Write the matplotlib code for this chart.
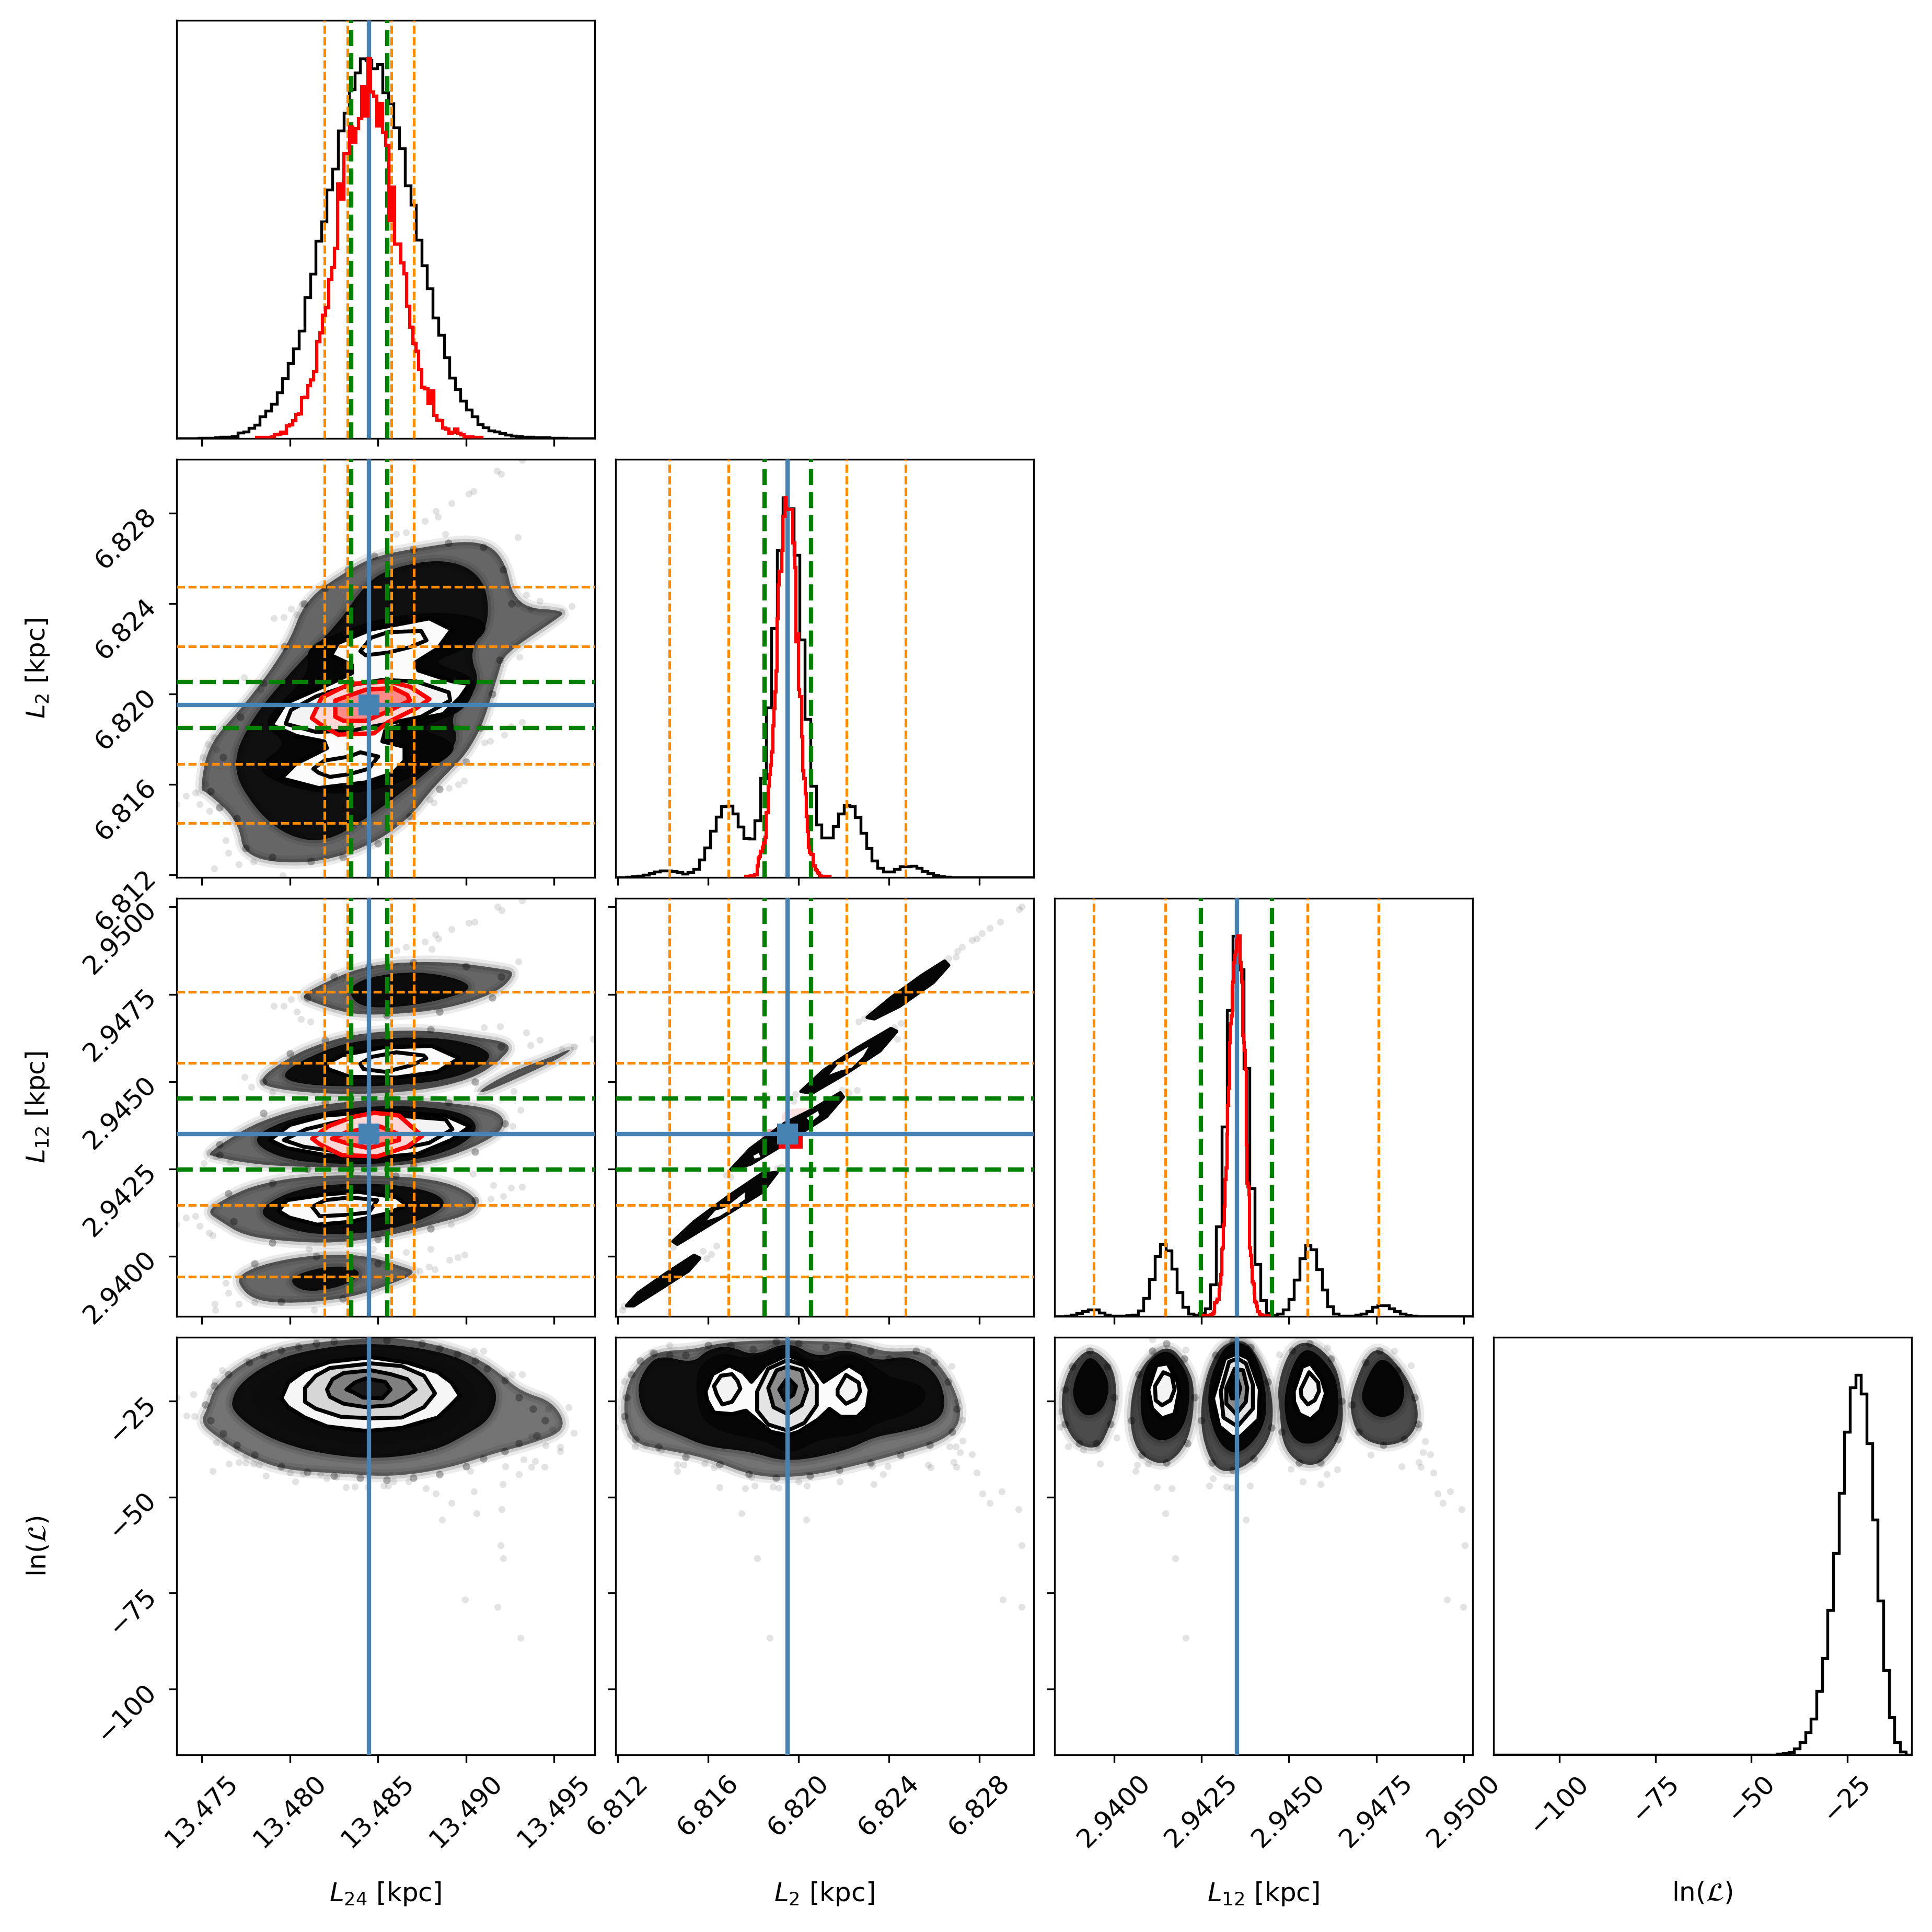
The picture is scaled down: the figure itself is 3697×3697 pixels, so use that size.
import numpy as np
import matplotlib
matplotlib.use("Agg")
import matplotlib.pyplot as plt
from matplotlib.path import Path
from matplotlib.patches import PathPatch

# axis ranges and ticks
l24_lim = (13.47356, 13.49729)
l2_lim = (6.8119, 6.83039)
l12_lim = (2.93829, 2.95025)
lnl_lim = (-117.2, -8.35)

l24_ticks = [13.475, 13.480, 13.485, 13.490, 13.495]
l2_ticks = [6.812, 6.816, 6.820, 6.824, 6.828]
l12_ticks = [2.9400, 2.9425, 2.9450, 2.9475, 2.9500]
lnl_ticks = [-100, -75, -50, -25]
l24_labels = ["13.475", "13.480", "13.485", "13.490", "13.495"]
l2_labels = ["6.812", "6.816", "6.820", "6.824", "6.828"]
l12_labels = ["2.9400", "2.9425", "2.9450", "2.9475", "2.9500"]
lnl_labels = ["\u2212100", "\u221275", "\u221250", "\u221225"]

names = [r"$L_{24}$ [kpc]", r"$L_{2}$ [kpc]", r"$L_{12}$ [kpc]", r"ln($\mathcal{L}$)"]

# reference lines
l24_truth = 13.4845
l2_truth = 6.81952
l12_truth = 2.94351
l24_orange = [13.48197, 13.48326, 13.48577, 13.48703]
l2_orange = [6.81430, 6.81690, 6.82212, 6.82474]
l12_orange = [2.93942, 2.94147, 2.94554, 2.94757]
l24_green = [13.48349, 13.48553]
l2_green = [6.81850, 6.82055]
l12_green = [2.94249, 2.94452]

# histograms, 75 bins each, peak scaled to 1000
l24_hist = [0, 0, 0, 0, 1, 1, 1, 2, 4, 4, 6, 15, 18, 27, 36, 57, 73, 90, 121, 158, 198, 237, 283, 371, 433,
            520, 571, 654, 710, 810, 856, 919, 962, 1000, 996, 974, 984, 910, 881, 818, 763, 666, 615, 523, 455,
            394, 317, 272, 213, 160, 129, 99, 75, 57, 37, 29, 21, 18, 13, 10, 7, 6, 4, 4, 3, 2, 2, 1, 1, 1,
            0, 0, 0, 0, 0]
l24_red = [2, 2, 2, 2, 2, 4, 9, 11, 16, 13, 33, 36, 46, 63, 64, 107, 108, 139, 154, 176, 254, 278, 324, 343, 418,
           450, 500, 670, 629, 750, 750, 820, 779, 816, 842, 926, 849, 1000, 912, 901, 822, 881, 806, 772, 573,
           661, 512, 512, 462, 433, 348, 293, 250, 230, 182, 134, 130, 92, 125, 60, 48, 46, 27, 24, 13,
           16, 24, 13, 9, 4, 4, 4, 3, 3, 3]
l24_red_range = (13.47811, 13.49090)

l2_hist = [0, 0, 1, 2, 4, 6, 10, 15, 17, 17, 16, 13, 9, 13, 21, 46, 78, 122, 159, 187, 188, 167, 133, 103, 101,
           149, 261, 446, 656, 861, 1000, 971, 848, 625, 417, 241, 138, 104, 104, 135, 168, 190, 187, 158, 117,
           76, 44, 25, 15, 15, 22, 28, 28, 30, 25, 16, 11, 5, 2, 1, 0, 0, 0, 0, 0, 0, 0, 0, 0, 0,
           0, 0, 0, 0, 0]
l2_red = [2, 2, 3, 2, 4, 2, 3, 3, 7, 7, 30, 50, 55, 68, 68, 80, 90, 105, 170, 170, 240, 270, 295, 330, 398,
          444, 488, 543, 680, 770, 805, 805, 860, 950, 950, 1000, 970, 968, 968, 968, 968, 968, 880, 880, 815,
          620, 640, 495, 475, 475, 370, 280, 260, 220, 160, 120, 80, 65, 62, 60, 30, 30, 20, 18, 12,
          10, 5, 3, 2, 2, 2, 2, 2, 2, 2]
l2_red_range = (6.81767, 6.82138)

l12_hist = [0, 0, 1, 4, 8, 13, 17, 17, 9, 4, 1, 1, 1, 2, 4, 14, 48, 97, 157, 189, 173, 125, 63, 24, 6,
            4, 8, 20, 83, 236, 499, 806, 1000, 912, 653, 337, 137, 42, 8, 2, 6, 18, 45, 96, 152,
            186, 176, 123, 69, 26, 6, 1, 1, 1, 4, 7, 13, 24, 29, 29, 20, 13, 6, 2, 1,
            0, 0, 0, 0, 0, 0, 0, 0, 0, 0]
l12_red = [2, 2, 1, 1, 1, 1, 2, 2, 3, 3, 5, 8, 12, 35, 35, 40, 45, 45, 70, 85, 110, 175, 180, 240, 290,
           360, 390, 480, 555, 600, 720, 770, 790, 870, 880, 930, 950, 960, 990, 1000, 1000, 1000, 930, 910, 880,
           740, 720, 700, 650, 450, 350, 340, 320, 180, 160, 130, 90, 85, 60, 40, 35, 25, 12, 12, 8,
           4, 4, 2, 1, 1, 1, 1, 1, 1, 1]
l12_red_range = (2.94255, 2.94443)

lnl_hist = [0] * 50 + [1, 3, 5, 7, 17, 34, 60, 95, 169, 255, 382, 531, 689, 851, 967, 1000, 951, 820, 620, 406,
                       224, 100, 34, 9, 1]

# L24 vs L2
a_outer = [(13.4749, 6.81573), (13.47536, 6.81779), (13.4774, 6.81948), (13.47991, 6.82214), (13.48086, 6.82419),
           (13.48337, 6.82552), (13.48494, 6.82613), (13.48745, 6.82649), (13.49059, 6.82685), (13.49216, 6.82613),
           (13.49279, 6.82383), (13.49577, 6.82371), (13.49499, 6.82323), (13.49216, 6.82178), (13.49185, 6.82093),
           (13.49059, 6.81779), (13.48824, 6.81598), (13.48667, 6.8144), (13.48431, 6.8132), (13.48117, 6.81247),
           (13.4774, 6.81271), (13.47709, 6.8144), (13.4752, 6.81573)]
a_mid = [(13.47662, 6.81682), (13.47787, 6.819), (13.48054, 6.82141), (13.48274, 6.82311), (13.48431, 6.82492),
         (13.48588, 6.82564), (13.48902, 6.82601), (13.49106, 6.82516), (13.49137, 6.82311), (13.49012, 6.8219),
         (13.4909, 6.82033), (13.48902, 6.81912), (13.48965, 6.81791), (13.48839, 6.81694), (13.48667, 6.81585),
         (13.48462, 6.81465), (13.48211, 6.81344), (13.47991, 6.81368), (13.47803, 6.81489)]
a_core = [(13.47866, 6.81851), (13.47882, 6.81912), (13.48117, 6.82093), (13.48086, 6.82202), (13.48274, 6.82274),
          (13.4851, 6.82335), (13.48792, 6.82365), (13.49059, 6.82347), (13.49137, 6.82286), (13.4898, 6.8219),
          (13.48792, 6.82141), (13.49043, 6.82081), (13.49051, 6.82008), (13.48965, 6.81912), (13.48714, 6.81851),
          (13.48902, 6.81803), (13.48949, 6.81743), (13.48714, 6.81634), (13.48431, 6.81561), (13.48148, 6.81561),
          (13.47913, 6.8161), (13.47803, 6.81682), (13.47991, 6.81779)]
a_white = [(13.47897, 6.81863), (13.47976, 6.8196), (13.48117, 6.82008), (13.48274, 6.82063), (13.48353, 6.82093),
           (13.48353, 6.82129), (13.48235, 6.82172), (13.48274, 6.82226), (13.48462, 6.82286), (13.48792, 6.82335),
           (13.48918, 6.82286), (13.48839, 6.82202), (13.48714, 6.82141), (13.48729, 6.82105), (13.48918, 6.82057),
           (13.4902, 6.82045), (13.48965, 6.81984), (13.48871, 6.81912), (13.48714, 6.81888), (13.48541, 6.81839),
           (13.48525, 6.81791), (13.48651, 6.81767), (13.48651, 6.81706), (13.48588, 6.81652), (13.48431, 6.8161),
           (13.48164, 6.81585), (13.47952, 6.81628), (13.48039, 6.81694), (13.48211, 6.81761), (13.48196, 6.81791),
           (13.48039, 6.81815)]
a_c2 = [(13.47976, 6.81869), (13.48007, 6.8193), (13.48148, 6.8199), (13.48337, 6.82039), (13.48525, 6.82063),
        (13.48714, 6.82057), (13.48902, 6.82008), (13.4891, 6.81972), (13.48745, 6.819), (13.48557, 6.8187),
        (13.48353, 6.81839), (13.48148, 6.81833)]
a_up = [(13.484, 6.8219), (13.48462, 6.8225), (13.48557, 6.82274), (13.48745, 6.8228), (13.48776, 6.82238),
        (13.48682, 6.82208), (13.48557, 6.82184), (13.48431, 6.82172)]
a_low = [(13.48133, 6.8167), (13.48196, 6.81706), (13.48337, 6.81724), (13.484, 6.81743), (13.48502, 6.81724),
         (13.48447, 6.8167), (13.48337, 6.81646), (13.48227, 6.81634), (13.48164, 6.81652)]
a_red1 = [(13.48125, 6.81894), (13.4818, 6.81984), (13.48337, 6.82045), (13.48557, 6.82057), (13.48682, 6.82033),
          (13.48792, 6.81978), (13.48714, 6.81936), (13.48557, 6.81876), (13.48478, 6.81827), (13.48274, 6.81821),
          (13.4818, 6.81863)]
a_red2 = [(13.48258, 6.819), (13.48258, 6.81972), (13.48431, 6.8202), (13.48588, 6.82027), (13.48667, 6.81996),
          (13.48682, 6.81972), (13.48557, 6.81924), (13.48431, 6.81882), (13.48305, 6.81882)]
a_points = [(13.49177, 6.82987), (13.492, 6.82973), (13.49318, 6.83036), (13.49015, 6.82885), (13.49043, 6.82897),
            (13.48918, 6.82845), (13.48828, 6.8281), (13.48842, 6.82784), (13.48765, 6.82766), (13.49295, 6.82695),
            (13.48883, 6.82707), (13.48659, 6.82715), (13.48604, 6.82707), (13.496, 6.82389), (13.49543, 6.82367),
            (13.49365, 6.82377), (13.49419, 6.82413), (13.49342, 6.82441), (13.49295, 6.82401), (13.4791, 6.82337),
            (13.47965, 6.82341), (13.48039, 6.82353), (13.4807, 6.82399), (13.48007, 6.82377), (13.4774, 6.82075),
            (13.47834, 6.8202), (13.47568, 6.81809), (13.47536, 6.81779), (13.47583, 6.81755), (13.47505, 6.81722),
            (13.4741, 6.81549), (13.47465, 6.81564), (13.47356, 6.81513), (13.4752, 6.81604), (13.47489, 6.81513),
            (13.47544, 6.81483), (13.47635, 6.81353), (13.47651, 6.81298), (13.47709, 6.81247), (13.47572, 6.81229),
            (13.47795, 6.81259), (13.4796, 6.81199), (13.48816, 6.81519), (13.48792, 6.81535), (13.48988, 6.81616),
            (13.48957, 6.816), (13.48902, 6.81585), (13.49137, 6.81793), (13.49106, 6.81785), (13.49318, 6.81876),
            (13.49255, 6.81857), (13.49216, 6.81821), (13.49302, 6.82166)]
a_fringe = [(13.4755, 6.8157), (13.4762, 6.8172), (13.4772, 6.819), (13.4785, 6.8205), (13.4797, 6.8221),
            (13.4808, 6.824), (13.482, 6.8247), (13.4833, 6.8255), (13.4848, 6.8261), (13.487, 6.8264),
            (13.489, 6.8267), (13.491, 6.8265), (13.4921, 6.8255), (13.4926, 6.824), (13.4919, 6.8215),
            (13.4915, 6.82), (13.4908, 6.8185), (13.49, 6.817), (13.4885, 6.8158), (13.4868, 6.8146),
            (13.485, 6.8134), (13.483, 6.8128), (13.4812, 6.8126), (13.479, 6.8128), (13.4775, 6.8132),
            (13.477, 6.8145), (13.476, 6.815)]

# L24 vs L12, lobes from top to bottom
b_outer = [
    [(13.48062, 2.94746), (13.48201, 2.94785), (13.48387, 2.94824), (13.48574, 2.9484), (13.48884, 2.94844),
     (13.49194, 2.94824), (13.49287, 2.94813), (13.49179, 2.94754), (13.48884, 2.94707), (13.48574, 2.94692),
     (13.48341, 2.94692), (13.48108, 2.94731)],
    [(13.47798, 2.94497), (13.47984, 2.94567), (13.4817, 2.9461), (13.48418, 2.94641), (13.4876, 2.94649),
     (13.49039, 2.94629), (13.49272, 2.9461), (13.49194, 2.94559), (13.49023, 2.94505), (13.48729, 2.94473),
     (13.48341, 2.94462), (13.47984, 2.94473)],
    [(13.49078, 2.94477), (13.49256, 2.94528), (13.49504, 2.94575), (13.49613, 2.94598), (13.49535, 2.94567),
     (13.49272, 2.94505), (13.49086, 2.94466)],
    [(13.47534, 2.94294), (13.47643, 2.94333), (13.47829, 2.94388), (13.48139, 2.94434), (13.48512, 2.9445),
     (13.48884, 2.94442), (13.49194, 2.94419), (13.49225, 2.94364), (13.49039, 2.9431), (13.48806, 2.94271),
     (13.48512, 2.94255), (13.48108, 2.94255), (13.47798, 2.94263), (13.47565, 2.94286)],
    [(13.47519, 2.9413), (13.47674, 2.94177), (13.47829, 2.94208), (13.48108, 2.94232), (13.48574, 2.94232),
     (13.48884, 2.94216), (13.4907, 2.94169), (13.49039, 2.94122), (13.48806, 2.94091), (13.48574, 2.9406),
     (13.48263, 2.94037), (13.47953, 2.94044), (13.47736, 2.9406), (13.47612, 2.94099)],
    [(13.47705, 2.9392), (13.4772, 2.93951), (13.47875, 2.93982), (13.48139, 2.94005), (13.48418, 2.94005),
     (13.4862, 2.93974), (13.48729, 2.93955), (13.48574, 2.9392), (13.48341, 2.93881), (13.48031, 2.93865),
     (13.47798, 2.93873)],
]
b_dark = [
    [(13.48325, 2.94766), (13.48449, 2.94801), (13.48729, 2.94817), (13.48977, 2.94793), (13.49039, 2.94762),
     (13.48806, 2.94727), (13.48574, 2.94711), (13.48387, 2.94715)],
    [(13.47953, 2.94528), (13.48186, 2.9459), (13.48418, 2.94622), (13.48806, 2.94629), (13.4907, 2.94606),
     (13.49163, 2.94567), (13.48961, 2.94512), (13.48651, 2.94489), (13.48263, 2.94485), (13.47999, 2.94497)],
    [(13.47767, 2.94333), (13.47953, 2.94388), (13.48232, 2.94419), (13.48574, 2.94434), (13.48961, 2.94419),
     (13.49086, 2.94372), (13.48961, 2.9431), (13.48651, 2.94267), (13.48263, 2.94263), (13.47953, 2.94278)],
    [(13.47813, 2.9413), (13.47984, 2.94185), (13.48232, 2.94208), (13.48574, 2.94208), (13.48822, 2.94185),
     (13.489, 2.94146), (13.48729, 2.94099), (13.48481, 2.94068), (13.48139, 2.9406), (13.47922, 2.94091)],
    [(13.47984, 2.93935), (13.48139, 2.93966), (13.48325, 2.93974), (13.48418, 2.93951), (13.48294, 2.93912),
     (13.48077, 2.93896)],
]
b_white = [
    [(13.48209, 2.94551), (13.48294, 2.94575), (13.48527, 2.94598), (13.48806, 2.94602), (13.48961, 2.94567),
     (13.48837, 2.94528), (13.48605, 2.94512), (13.48341, 2.94514), (13.48217, 2.94536)],
    [(13.47886, 2.94333), (13.47999, 2.94376), (13.48201, 2.94403), (13.48512, 2.94415), (13.48884, 2.94403),
     (13.49023, 2.94372), (13.48915, 2.94333), (13.48729, 2.94294), (13.48481, 2.94282), (13.48201, 2.9429),
     (13.47984, 2.9431)],
    [(13.47937, 2.9413), (13.47984, 2.94161), (13.48201, 2.94177), (13.48387, 2.94185), (13.48605, 2.94169),
     (13.48667, 2.94146), (13.48543, 2.94122), (13.48341, 2.94099), (13.48155, 2.94091), (13.47999, 2.94111)],
]
b_inner = [
    [(13.484, 2.94551), (13.48465, 2.94571), (13.48605, 2.94584), (13.4876, 2.94575), (13.48775, 2.94567),
     (13.48698, 2.94548), (13.48543, 2.94528), (13.48418, 2.94536)],
    [(13.47965, 2.94333), (13.48093, 2.94364), (13.48325, 2.94392), (13.48605, 2.94403), (13.48884, 2.94392),
     (13.48923, 2.94364), (13.48791, 2.94325), (13.48527, 2.94298), (13.48294, 2.94298), (13.48077, 2.94314)],
    [(13.48127, 2.94142), (13.48201, 2.94161), (13.48341, 2.94169), (13.48496, 2.94161), (13.48449, 2.94126),
     (13.48325, 2.94119), (13.4817, 2.94115)],
]
b_red1 = [(13.48127, 2.94337), (13.48217, 2.94372), (13.48356, 2.94399), (13.4848, 2.94411), (13.4862, 2.94403),
          (13.48698, 2.94368), (13.48752, 2.94345), (13.48667, 2.94314), (13.48496, 2.94286), (13.48294, 2.9429),
          (13.4817, 2.94321)]
b_red2 = [(13.4824, 2.94337), (13.48325, 2.94356), (13.48512, 2.94372), (13.4862, 2.94349), (13.4862, 2.94333),
          (13.48449, 2.9431), (13.48341, 2.94321)]
b_points = [(13.49179, 2.95), (13.49202, 2.9499), (13.49318, 2.95019), (13.49016, 2.94955), (13.49047, 2.94957),
            (13.48918, 2.94936), (13.48826, 2.94922), (13.48844, 2.9491), (13.48767, 2.94901), (13.48806, 2.94879),
            (13.48659, 2.94885), (13.48605, 2.94875), (13.49298, 2.94844), (13.4791, 2.94717), (13.47965, 2.94717),
            (13.48007, 2.94736), (13.48041, 2.947), (13.48116, 2.94672), (13.48062, 2.94679), (13.49194, 2.94658),
            (13.49101, 2.94655), (13.49342, 2.9464), (13.49419, 2.94619), (13.49613, 2.946), (13.49543, 2.94593),
            (13.49722, 2.94622), (13.49365, 2.94604), (13.47744, 2.94514), (13.47782, 2.94485), (13.47899, 2.9447),
            (13.4931, 2.94419), (13.49264, 2.94372), (13.49272, 2.94473), (13.47511, 2.94267), (13.47542, 2.94298),
            (13.47581, 2.94286), (13.4766, 2.94271), (13.49318, 2.942), (13.49256, 2.94197), (13.49155, 2.94204),
            (13.4921, 2.94173), (13.4914, 2.94165), (13.49039, 2.94236), (13.47464, 2.94115), (13.4741, 2.94111),
            (13.47356, 2.94091), (13.47488, 2.94087), (13.47542, 2.94068), (13.47562, 2.9406), (13.47573, 2.93865),
            (13.47577, 2.93846), (13.47635, 2.93924), (13.47651, 2.93896), (13.47709, 2.93865), (13.47798, 2.93869),
            (13.48139, 2.93846), (13.48799, 2.94021), (13.48907, 2.9399), (13.48954, 2.93998), (13.48992, 2.94005),
            (13.48822, 2.93963), (13.48791, 2.9397), (13.48736, 2.93959), (13.48659, 2.94013), (13.48473, 2.94021),
            (13.48108, 2.94021), (13.48915, 2.94091)]
b_fringe = [(13.481, 2.9474), (13.4825, 2.948), (13.4845, 2.9483), (13.487, 2.9484), (13.49, 2.9483), (13.492, 2.948),
            (13.4915, 2.9474), (13.4885, 2.947), (13.4855, 2.9469), (13.4785, 2.945), (13.48, 2.9458), (13.482, 2.9462),
            (13.488, 2.9465), (13.492, 2.946), (13.4905, 2.945), (13.476, 2.9432), (13.4785, 2.9441), (13.482, 2.9444),
            (13.489, 2.9444), (13.4922, 2.9438), (13.4905, 2.943), (13.487, 2.9426), (13.481, 2.9425), (13.476, 2.9429),
            (13.4765, 2.9418), (13.479, 2.9421), (13.486, 2.9423), (13.4905, 2.9416), (13.488, 2.9408), (13.485, 2.9405),
            (13.479, 2.9404), (13.4768, 2.941), (13.478, 2.9398), (13.4815, 2.94), (13.485, 2.9398), (13.483, 2.9388),
            (13.4795, 2.9387)]

# L2 vs L12, diagonal strips
c_strips = [
    [(6.8124, 2.93859), (6.8129, 2.93895), (6.81414, 2.93951), (6.81538, 2.94003), (6.81563, 2.93995),
     (6.81514, 2.93959), (6.81389, 2.93907), (6.81271, 2.93859)],
    [(6.81445, 2.94043), (6.81538, 2.94099), (6.81688, 2.94171), (6.81837, 2.94236), (6.81905, 2.9424),
     (6.81837, 2.94183), (6.81688, 2.94123), (6.81526, 2.94059), (6.81464, 2.94035)],
    [(6.817, 2.94248), (6.81787, 2.94308), (6.81937, 2.9438), (6.82061, 2.9442), (6.82185, 2.94468),
     (6.82198, 2.94456), (6.82123, 2.944), (6.82036, 2.94364), (6.81912, 2.94312), (6.81787, 2.94264)],
    [(6.82011, 2.94472), (6.82111, 2.94532), (6.8226, 2.94596), (6.82409, 2.94652), (6.82434, 2.94644),
     (6.8236, 2.94588), (6.8221, 2.94524), (6.82061, 2.94468)],
    [(6.82304, 2.94684), (6.82409, 2.9474), (6.82546, 2.94804), (6.82646, 2.94845), (6.82664, 2.94833),
     (6.82596, 2.94784), (6.82447, 2.94716), (6.82335, 2.9468)],
]
c_white = [
    [(6.81594, 2.94103), (6.81632, 2.94131), (6.81675, 2.94139), (6.81762, 2.94183), (6.81762, 2.94163),
     (6.817, 2.94135), (6.8165, 2.94115)],
    [(6.82136, 2.9452), (6.82173, 2.94548), (6.8231, 2.946), (6.82285, 2.94572), (6.82235, 2.9454), (6.82185, 2.94532)],
    [(6.818, 2.94288), (6.81825, 2.94296), (6.81831, 2.94284), (6.81806, 2.9428)],
    [(6.82036, 2.94396), (6.82086, 2.94416), (6.82092, 2.94404), (6.82055, 2.94384)],
]
c_red_cell = [(6.81912, 2.94308), (6.82019, 2.94308), (6.82019, 2.94348), (6.81912, 2.94348)]
c_pink_cell = [(6.81837, 2.94308), (6.81912, 2.94308), (6.81912, 2.94364), (6.81837, 2.94364)]
c_faint_cell = [(6.81927, 2.94372), (6.82111, 2.94372), (6.82111, 2.94424), (6.81927, 2.94424)]
c_points = [(6.82988, 2.95001), (6.82975, 2.94993), (6.82892, 2.94958), (6.82847, 2.94939), (6.82812, 2.94925),
            (6.82788, 2.9491), (6.82768, 2.94905), (6.82723, 2.94886), (6.82702, 2.94873), (6.82696, 2.94857),
            (6.82664, 2.94853), (6.82266, 2.94672), (6.82291, 2.9468), (6.82316, 2.94696), (6.82453, 2.94668),
            (6.82437, 2.94622), (6.82422, 2.94656), (6.8226, 2.94476), (6.82223, 2.94468), (6.82192, 2.94476),
            (6.8198, 2.94444), (6.81986, 2.94464), (6.81924, 2.94256), (6.81905, 2.94252), (6.817, 2.94228),
            (6.81678, 2.94234), (6.81638, 2.94031), (6.81613, 2.94007), (6.81594, 2.93995), (6.81576, 2.94015),
            (6.81445, 2.94027), (6.81227, 2.93859), (6.81221, 2.93847), (6.81184, 2.93843)]

# L24 vs lnL
d_outer = [(13.47536, -26.6), (13.47568, -21.6), (13.47709, -15.7), (13.47882, -12), (13.48086, -10),
           (13.48431, -8.6), (13.48619, -8.6), (13.48824, -10.2), (13.49059, -13.6), (13.492, -18),
           (13.4931, -22.5), (13.49499, -25.2), (13.49577, -32.5), (13.49373, -36.1), (13.49138, -38.9),
           (13.48902, -42.5), (13.48588, -44.8), (13.48305, -43.9), (13.4796, -43), (13.4774, -38.9),
           (13.47599, -34.8), (13.4749, -30.7)]
d_mid = [(13.47662, -25.2), (13.47725, -19.8), (13.47913, -14.3), (13.48117, -11.6), (13.48431, -9.8),
         (13.48745, -11.1), (13.4898, -13.9), (13.49106, -18), (13.49185, -23), (13.49138, -29.8),
         (13.48996, -33.9), (13.48824, -38), (13.4851, -40.2), (13.48196, -38.9), (13.4796, -36.1),
         (13.47803, -32.5), (13.47693, -28.4)]
d_core = [(13.47772, -24.3), (13.47834, -19.8), (13.47991, -15.2), (13.48274, -12), (13.48462, -11.4),
          (13.48745, -13), (13.48933, -15.7), (13.49043, -20.2), (13.49075, -25.2), (13.4898, -30.7),
          (13.48824, -34.8), (13.48462, -36.6), (13.4818, -35.2), (13.4796, -32.5), (13.47834, -28.4)]
d_c1 = [(13.47952, -24.3), (13.47991, -20.2), (13.48086, -17), (13.48227, -14.8), (13.48462, -13.6),
        (13.48667, -15), (13.48839, -17.5), (13.48918, -20.2), (13.48965, -23.6), (13.48902, -26.6),
        (13.48839, -29.3), (13.48714, -30.9), (13.48635, -32), (13.48462, -32.7), (13.48415, -32.7),
        (13.48211, -31.6), (13.48086, -29.3), (13.47991, -26.6)]
d_c2 = [(13.48086, -21.6), (13.48148, -18.4), (13.48227, -16.4), (13.48462, -15.2), (13.48635, -15.9),
        (13.48761, -18.4), (13.48824, -23), (13.48761, -26.6), (13.48635, -29.3), (13.48462, -29.5),
        (13.4829, -29.1), (13.48148, -27), (13.48086, -25.2)]
d_c3 = [(13.48211, -22), (13.48243, -19.3), (13.48305, -17.7), (13.48462, -17), (13.48572, -18),
        (13.48667, -19.3), (13.48714, -22), (13.48651, -24.3), (13.48572, -26.1), (13.48431, -26.6),
        (13.48305, -25.7), (13.48227, -23.9)]
d_c4 = [(13.48321, -22), (13.48368, -20.2), (13.48431, -19.1), (13.48541, -20), (13.48572, -22),
        (13.48525, -24.3), (13.48415, -24.1), (13.4836, -22.7)]
d_points = [(13.47563, -43.2), (13.47866, -44.5), (13.48031, -46), (13.48318, -47.5), (13.48368, -47.3),
            (13.48444, -47.5), (13.48533, -47.1), (13.4856, -47), (13.48772, -47.7), (13.48828, -49.1),
            (13.49045, -48.6), (13.49208, -46.6), (13.48919, -51.5), (13.49202, -53.2), (13.49059, -54.2),
            (13.48863, -55.9), (13.49196, -62.6), (13.4921, -66), (13.493, -44.1), (13.49445, -42.1),
            (13.49536, -37), (13.49536, -38.1), (13.49613, -33.3), (13.49582, -26.7), (13.47453, -23.2),
            (13.47414, -28.8), (13.47356, -24.1), (13.47654, -41.4), (13.47709, -40.9), (13.47748, -41),
            (13.47795, -41.4), (13.47827, -41.6), (13.48, -43.6), (13.48076, -43.9), (13.48172, -44.1),
            (13.4821, -45.2), (13.48265, -44.7), (13.48674, -45.9), (13.48588, -46), (13.49024, -43.3),
            (13.49224, -42), (13.49373, -42.2), (13.49392, -40.6), (13.49326, -40.2), (13.49451, -36.6),
            (13.49373, -34.3), (13.49491, -32.3), (13.49467, -27), (13.49318, -18), (13.49263, -18),
            (13.49098, -12), (13.49046, -12), (13.47756, -14.5), (13.47882, -12.3), (13.47615, -17),
            (13.47575, -19.8), (13.47544, -22.5), (13.47458, -28.9), (13.47583, -35.7), (13.4763, -36.1),
            (13.47701, -37.5), (13.47748, -39.3), (13.48148, -8.6), (13.48996, -76.7), (13.4918, -78.6),
            (13.4931, -86.7)]
d_fringe = [(13.4777, -15), (13.4785, -13), (13.4795, -11.8), (13.4805, -10.8), (13.4815, -10), (13.4825, -9.5),
            (13.4855, -9.2), (13.4875, -10), (13.4885, -11.2), (13.4895, -12.8), (13.4905, -14.5), (13.4912, -16.5),
            (13.4922, -19.5), (13.493, -24), (13.4938, -27), (13.4945, -30), (13.494, -34), (13.493, -36),
            (13.4922, -38), (13.491, -40), (13.49, -42), (13.4885, -44), (13.487, -45), (13.4855, -45.5),
            (13.484, -45), (13.4825, -44.5), (13.481, -43.5), (13.4795, -42), (13.478, -39), (13.477, -36.5),
            (13.4762, -33.5), (13.4755, -30), (13.4752, -26), (13.4757, -21), (13.4765, -18)]

# L2 vs lnL
e_outer = [(6.81233, -22), (6.81288, -15.7), (6.81374, -12), (6.81534, -11.6), (6.81657, -9.8), (6.81854, -9.1),
           (6.8205, -9.3), (6.82247, -9.8), (6.82395, -12.5), (6.82555, -11.6), (6.82653, -17.5), (6.82714, -25.2),
           (6.82714, -31.1), (6.82641, -35.2), (6.82493, -38), (6.82272, -41.6), (6.82026, -44.8), (6.81804, -44.8),
           (6.81596, -39.8), (6.81386, -37.5), (6.81276, -36.1), (6.81227, -29.8)]
e_mid = [(6.81282, -22), (6.81325, -16.1), (6.81387, -13), (6.81534, -15.2), (6.81596, -11.6), (6.81694, -10.5),
         (6.81805, -13.4), (6.81952, -9.3), (6.82087, -13.9), (6.8221, -11.1), (6.82345, -14.8), (6.8248, -13),
         (6.82604, -17), (6.82653, -24.3), (6.82628, -30.2), (6.82469, -33), (6.82333, -34.3), (6.8221, -38),
         (6.81952, -41.1), (6.8178, -38), (6.81596, -37), (6.8146, -33.4), (6.81325, -30.2)]
e_core = [(6.81546, -20.7), (6.81559, -15.7), (6.81657, -12), (6.8178, -14.3), (6.81952, -10), (6.82075, -15.7),
          (6.82223, -11.9), (6.82358, -16.6), (6.82407, -18.9), (6.82555, -20.7), (6.82567, -25.2), (6.82469, -28.9),
          (6.82345, -30.7), (6.82272, -33.9), (6.82087, -34.8), (6.81964, -39.3), (6.81854, -35.2), (6.81657, -33.4),
          (6.81559, -28.9)]
e_white = [(6.81589, -22.5), (6.8162, -18), (6.81694, -15.7), (6.81755, -17.5), (6.81792, -20), (6.81854, -15.7),
           (6.81952, -13), (6.82026, -14.8), (6.82075, -17), (6.82112, -20), (6.82223, -15.7), (6.82284, -18),
           (6.82315, -22), (6.82303, -26.6), (6.8226, -29.1), (6.82186, -29.1), (6.82137, -27), (6.82087, -29.8),
           (6.82001, -33), (6.81952, -33.9), (6.81878, -33), (6.81767, -27.5), (6.81706, -28.4), (6.81626, -28),
           (6.81596, -24.8)]
e_left = [(6.81626, -21.1), (6.81657, -18.4), (6.81706, -18), (6.81731, -19.8), (6.81743, -21.8), (6.81706, -25.2),
          (6.81663, -25.9), (6.81639, -23.4)]
e_right = [(6.82173, -22), (6.8221, -18.2), (6.82266, -20.2), (6.82272, -22.5), (6.82253, -24.5), (6.8221, -25.7),
           (6.82173, -23.4)]
e_c2 = [(6.81817, -22.5), (6.81866, -16.6), (6.81952, -14.3), (6.82026, -15.7), (6.82081, -20.7), (6.82081, -26.1),
        (6.82026, -30.7), (6.81952, -32.7), (6.81866, -31.1), (6.81817, -27.5)]
e_c3 = [(6.81866, -21.6), (6.81903, -17), (6.81952, -16), (6.82014, -17), (6.82038, -22), (6.82014, -26.1),
        (6.81952, -28.4), (6.8189, -26.6)]
e_c4 = [(6.81915, -22), (6.81952, -18.9), (6.81989, -21.1), (6.81977, -23.4), (6.8194, -24.8)]
e_points = [(6.81749, -54.2), (6.82034, -55.9), (6.81817, -66), (6.82987, -62.6), (6.82973, -53.2), (6.82813, -49.1),
            (6.82847, -51.5), (6.82899, -48.6), (6.82788, -43.7), (6.82698, -42.1), (6.82686, -40.9), (6.82768, -38.9),
            (6.82714, -38.3), (6.82667, -36.9), (6.82696, -36.9), (6.82725, -35.3), (6.82585, -42.3), (6.82573, -41.6),
            (6.82333, -46.7), (6.82183, -45.9), (6.82374, -44), (6.82038, -47), (6.81913, -47.6), (6.81887, -47.3),
            (6.81805, -47.1), (6.81764, -47.7), (6.81651, -47.5), (6.81463, -43.2), (6.81463, -41.5), (6.81491, -41.6),
            (6.81583, -41.4), (6.81626, -42.3), (6.81276, -36.9), (6.81325, -36.5), (6.81393, -37.8), (6.81257, -33.8),
            (6.81227, -30), (6.8119, -31.8), (6.81227, -19.8), (6.8135, -12.3), (6.8143, -10.5), (6.82678, -15.9),
            (6.82725, -29.9), (6.82702, -25.2), (6.82573, -12), (6.82395, -42), (6.82327, -42), (6.81792, -44.7),
            (6.82001, -45.9), (6.82904, -76.7), (6.82986, -78.6), (6.81874, -86.7)]
e_fringe = [(6.8124, -24), (6.8126, -18), (6.813, -14.5), (6.8136, -12.5), (6.8143, -13), (6.815, -13), (6.816, -10.5),
            (6.817, -10.5), (6.818, -11.5), (6.819, -9.5), (6.82, -10), (6.8212, -11), (6.8222, -10.5), (6.8232, -12),
            (6.824, -14), (6.8252, -12), (6.826, -15), (6.8266, -20), (6.827, -27), (6.8268, -33), (6.8258, -36.5),
            (6.8245, -39), (6.8232, -41), (6.8218, -43), (6.8205, -44.5), (6.819, -45), (6.8178, -44), (6.8165, -41.5),
            (6.815, -39.5), (6.8138, -37), (6.8128, -35), (6.8123, -29)]

# L12 vs lnL, five lobes from left to right
f_outer = [
    [(2.93856, -20.7), (2.9388, -15.2), (2.93928, -11.1), (2.93976, -13.9), (2.94004, -18), (2.94008, -26.1),
     (2.93984, -32.5), (2.93956, -37.5), (2.93896, -36.6), (2.9386, -31.6), (2.93848, -26.1)],
    [(2.94045, -25.2), (2.94073, -16.1), (2.94153, -9.8), (2.94209, -15.7), (2.94233, -22), (2.94217, -35.2),
     (2.94153, -42), (2.94081, -39.8), (2.94049, -34.3)],
    [(2.94249, -23), (2.94289, -12), (2.94345, -8.9), (2.94393, -10.2), (2.9445, -20.7), (2.94457, -32.5),
     (2.94409, -39.8), (2.94345, -43.4), (2.94289, -43), (2.94249, -34.3)],
    [(2.94466, -20.7), (2.94506, -10.7), (2.94562, -9.3), (2.94626, -14.3), (2.9465, -20.7), (2.94658, -32.5),
     (2.94602, -41.1), (2.94538, -42), (2.94482, -37), (2.94474, -27.5)],
    [(2.94682, -22), (2.94722, -13), (2.94762, -11.1), (2.94818, -16.1), (2.94858, -22.5), (2.94874, -29.8),
     (2.94842, -35.2), (2.9477, -37), (2.94698, -34.3), (2.94674, -27.5)],
]
f_core = [
    [(2.9388, -21.6), (2.93904, -15.7), (2.93936, -13), (2.93976, -17.5), (2.93988, -22), (2.93968, -27.5),
     (2.9392, -29.3), (2.93888, -26.1)],
    [(2.94073, -22.5), (2.94093, -14.8), (2.94153, -11.1), (2.94201, -16.1), (2.94221, -22), (2.94201, -32.5),
     (2.94137, -36.1), (2.94081, -32.5)],
    [(2.94261, -23), (2.94305, -11.6), (2.94353, -9.3), (2.94401, -11.6), (2.94437, -22), (2.94433, -32),
     (2.94353, -39.8), (2.94289, -35.2)],
    [(2.94486, -22.5), (2.94522, -13), (2.94562, -11.1), (2.94618, -16.1), (2.94642, -21.1), (2.94642, -30.7),
     (2.94586, -36.1), (2.94522, -36.1), (2.9449, -30.7)],
    [(2.94706, -22.5), (2.94746, -14.8), (2.94778, -13.9), (2.94818, -18), (2.94834, -22.5), (2.94818, -27.5),
     (2.94762, -29.8), (2.94714, -26.6)],
]
f_white = [
    [(2.94098, -22), (2.94121, -15.7), (2.94153, -15.2), (2.94181, -19.8), (2.94186, -22.5), (2.94173, -28.4),
     (2.94137, -29.5), (2.94109, -27)],
    [(2.94283, -24.3), (2.94317, -13.9), (2.94353, -12.6), (2.94385, -13.9), (2.94417, -22), (2.94413, -29.8),
     (2.94361, -34.3), (2.94337, -34.3), (2.94301, -31.6)],
    [(2.94514, -22.5), (2.94538, -16.1), (2.94562, -15.2), (2.94594, -19.3), (2.94606, -23), (2.9459, -27.5),
     (2.94562, -29.8), (2.9453, -28.4), (2.94515, -25.2)],
]
f_inner = [
    [(2.94117, -21.1), (2.94141, -17.5), (2.94165, -18.4), (2.94173, -22), (2.94161, -24.8), (2.94137, -26.1),
     (2.94119, -24.8)],
    [(2.94534, -22), (2.94558, -17.5), (2.94584, -20.2), (2.94586, -22.5), (2.94574, -24.8), (2.94554, -25.9),
     (2.94536, -23.9)],
]
f_c2 = [(2.94305, -22.5), (2.94329, -14.8), (2.94353, -13.9), (2.94377, -15.2), (2.94397, -20.7), (2.94397, -27),
        (2.94353, -31.6), (2.94313, -29.3)]
f_c3 = [(2.94321, -21.6), (2.94345, -16.6), (2.94369, -17), (2.94381, -21.6), (2.94377, -25.2), (2.94349, -28.4),
        (2.94321, -25.7)]
f_c4 = [(2.94329, -21.6), (2.94349, -18.4), (2.94361, -21.6), (2.94353, -24.3), (2.94337, -24.3)]
f_points = [(2.94147, -54.2), (2.94377, -55.9), (2.94175, -66), (2.95003, -62.6), (2.94995, -53.2), (2.94926, -49.1),
            (2.9494, -51.5), (2.94961, -48.6), (2.94913, -43.7), (2.94877, -42.1), (2.94872, -40.9), (2.94905, -38.9),
            (2.94884, -38.3), (2.94822, -42), (2.94734, -39), (2.9396, -41.4), (2.94061, -43.2), (2.94066, -41.6),
            (2.94097, -41.4), (2.94123, -47.5), (2.94165, -47.7), (2.94273, -47.1), (2.94321, -47.3), (2.94337, -47.6),
            (2.94389, -47), (2.94283, -45.2), (2.9454, -45.9), (2.9459, -46.7), (2.94608, -44), (2.94638, -42.8),
            (2.94506, -42.7), (2.93868, -36.9), (2.93912, -37.6), (2.93954, -37.4), (2.93844, -31.8), (2.93847, -27.7),
            (2.94008, -34.5), (2.9485, -15.7), (2.94802, -12), (2.9461, -11.1), (2.94473, -12.9), (2.94205, -11.6),
            (2.94109, -8.9), (2.9489, -35.5), (2.9487, -32), (2.94953, -76.7), (2.94999, -78.6), (2.94205, -86.7)]
f_fringe = [(2.9386, -22), (2.9388, -16), (2.9393, -12), (2.9398, -16), (2.94, -24), (2.9399, -31), (2.9395, -36),
            (2.939, -36), (2.9386, -31), (2.9407, -18), (2.9411, -12), (2.9415, -10), (2.942, -14), (2.9423, -24),
            (2.9421, -36), (2.9415, -41), (2.9408, -39), (2.9405, -30), (2.9429, -13), (2.9434, -9.5), (2.9439, -11),
            (2.9444, -20), (2.9445, -32), (2.944, -40), (2.9434, -43), (2.9428, -41), (2.9425, -30), (2.9451, -12),
            (2.9456, -10), (2.9462, -14), (2.9465, -25), (2.9464, -35), (2.9459, -41), (2.9453, -41), (2.9448, -33),
            (2.9472, -15), (2.9476, -12), (2.9481, -17), (2.9486, -24), (2.9487, -31), (2.9483, -35), (2.9477, -36.5),
            (2.947, -33), (2.9468, -26)]


def rounded(poly):
    # closed outline, corners rounded with quadratic curves
    pts = np.array(poly)
    mids = (pts + np.roll(pts, -1, axis=0)) / 2
    verts = [mids[-1]]
    codes = [Path.MOVETO]
    for k in range(len(pts)):
        verts += [pts[k], mids[k]]
        codes += [Path.CURVE3, Path.CURVE3]
    return Path(verts, codes)


def blob(ax, poly, color="k", alpha=1.0, z=2, soft=False):
    path = rounded(poly)
    ax.add_patch(PathPatch(path, facecolor=color, edgecolor="none", alpha=alpha, zorder=z))
    if soft:
        # dark edge that fades out, the cloud of samples has no sharp border
        for width, a in [(6, 0.08), (3, 0.14)]:
            ax.add_patch(PathPatch(path, facecolor="none", edgecolor="k", lw=width, alpha=a, zorder=z - 0.1))


def contour(ax, poly, fill=None, color="k", z=3, lw=1.8):
    xs, ys = zip(*poly)
    if fill is not None:
        ax.fill(xs, ys, color=fill, lw=0, zorder=z)
    ax.fill(xs, ys, fill=False, edgecolor=color, lw=lw, zorder=z + 0.1, joinstyle="round")


def speckle(ax, pts, fringe=None):
    xs, ys = zip(*pts)
    ax.scatter(xs, ys, s=10, color="k", alpha=0.11, linewidths=0, zorder=1)
    if fringe is not None:
        xs, ys = zip(*fringe)
        ax.scatter(xs, ys, s=12, color="k", alpha=0.3, linewidths=0, zorder=1.6)


def guide_lines(ax, xv=None, yv=None, truth_only=False):
    # xv / yv: (orange, green, truth)
    orange_ls = (0, (3.0, 1.25))
    if xv is not None:
        if not truth_only:
            for v in xv[0]:
                ax.axvline(v, color="darkorange", ls=orange_ls, lw=1.25, zorder=5)
            for v in xv[1]:
                ax.axvline(v, color="green", ls="--", lw=2, zorder=5.5)
        ax.axvline(xv[2], color="steelblue", lw=2, zorder=6)
    if yv is not None:
        for v in yv[0]:
            ax.axhline(v, color="darkorange", ls=orange_ls, lw=1.25, zorder=5)
        for v in yv[1]:
            ax.axhline(v, color="green", ls="--", lw=2, zorder=5.5)
        ax.axhline(yv[2], color="steelblue", lw=2, zorder=6)
    if xv is not None and yv is not None:
        ax.plot([xv[2]], [yv[2]], "s", color="steelblue", ms=9.5, mew=0, zorder=7)


lims = [l24_lim, l2_lim, l12_lim, lnl_lim]
ticks = [l24_ticks, l2_ticks, l12_ticks, lnl_ticks]
labels = [l24_labels, l2_labels, l12_labels, lnl_labels]
lines = [(l24_orange, l24_green, l24_truth), (l2_orange, l2_green, l2_truth), (l12_orange, l12_green, l12_truth), None]
hists = [l24_hist, l2_hist, l12_hist, lnl_hist]
reds = [(l24_red, l24_red_range), (l2_red, l2_red_range), (l12_red, l12_red_range), None]

plt.rcParams["font.size"] = 12

fig, axes = plt.subplots(4, 4, figsize=(3697 / 300, 3697 / 300), dpi=300)
fig.subplots_adjust(left=337.5 / 3697, right=3657.5 / 3697, top=(3697 - 39) / 3697, bottom=(3697 - 3358.5) / 3697,
                    wspace=0.05, hspace=0.05)

for i in range(4):
    for j in range(4):
        ax = axes[i, j]
        if j > i:
            ax.set_axis_off()
            continue
        ax.set_xlim(lims[j])
        ax.set_xticks(ticks[j])
        if i == 3:
            ax.set_xticklabels(labels[j], rotation=45)
            ax.set_xlabel(names[j], fontsize=12)
            ax.xaxis.set_label_coords(0.5, -0.3)
        else:
            ax.set_xticklabels([])
        if i == j:
            edges = np.linspace(lims[j][0], lims[j][1], 76)
            ax.stairs(hists[j], edges, color="k", lw=1.3, zorder=3)
            ax.set_ylim(0, 1100)
            ax.set_yticks([])
            guide_lines(ax, xv=lines[j])
            if reds[j] is not None:
                vals, rng = reds[j]
                ax.stairs(vals, np.linspace(rng[0], rng[1], 76), color="red", lw=1.5, zorder=6.5)
        else:
            ax.set_ylim(lims[i])
            ax.set_yticks(ticks[i])
            if j == 0:
                ax.set_yticklabels(labels[i], rotation=45)
                ax.set_ylabel(names[i], fontsize=12)
                ax.yaxis.set_label_coords(-0.3, 0.5)
            else:
                ax.set_yticklabels([])
            guide_lines(ax, xv=lines[j], yv=lines[i], truth_only=(i == 3))

# L24 vs L2
ax = axes[1, 0]
speckle(ax, a_points, a_fringe)
blob(ax, a_outer, alpha=0.6, z=1.5, soft=True)
blob(ax, a_mid, alpha=0.85, soft=True)
blob(ax, a_core, color="#050505", z=2.5)
contour(ax, a_white, fill="#fbfbfb")
contour(ax, a_c2, fill="#f3f3f3")
contour(ax, a_up)
contour(ax, a_low)
contour(ax, a_red1, fill="#ffd6d6", color="red", lw=2)
contour(ax, a_red2, fill="#ff8a8a", color="red", lw=2, z=3.5)

# L24 vs L12
ax = axes[2, 0]
speckle(ax, b_points, b_fringe)
for poly in b_outer:
    blob(ax, poly, alpha=0.6, z=1.5, soft=True)
for poly in b_dark:
    blob(ax, poly, color="#050505", alpha=0.92, soft=True)
for poly in b_white:
    contour(ax, poly, fill="#fbfbfb")
for poly in b_inner:
    contour(ax, poly, fill="#f3f3f3", z=3.2)
contour(ax, b_red1, fill="#ffd6d6", color="red", lw=2, z=3.5)
contour(ax, b_red2, fill="#ff8a8a", color="red", lw=2, z=3.7)

# L2 vs L12
ax = axes[2, 1]
speckle(ax, c_points)
blob(ax, c_faint_cell, color="#fbe0e0", z=1.2)
blob(ax, c_pink_cell, color="#f4a6a6", z=1.2)
for poly in c_strips:
    xs, ys = zip(*poly)
    ax.fill(xs, ys, facecolor="#050505", edgecolor="#050505", lw=1.6, zorder=2, joinstyle="round")
for poly in c_white:
    xs, ys = zip(*poly)
    ax.fill(xs, ys, color="white", lw=0, zorder=2.5)
xs, ys = zip(*c_red_cell)
ax.fill(xs, ys, color="red", lw=0, zorder=2.7)

# L24 vs lnL
ax = axes[3, 0]
speckle(ax, d_points, d_fringe)
blob(ax, d_outer, alpha=0.55, z=1.5, soft=True)
blob(ax, d_mid, alpha=0.88, soft=True)
blob(ax, d_core, color="#0c0c0c", z=2.5)
contour(ax, d_c1, fill="#f6f6f6")
contour(ax, d_c2, fill="#d6d6d6", z=3.2)
contour(ax, d_c3, fill="#808080", z=3.4)
contour(ax, d_c4, fill="#1a1a1a", z=3.6)

# L2 vs lnL
ax = axes[3, 1]
speckle(ax, e_points, e_fringe)
blob(ax, e_outer, alpha=0.55, z=1.5, soft=True)
blob(ax, e_mid, alpha=0.88, soft=True)
blob(ax, e_core, color="#060606", z=2.5)
contour(ax, e_white, fill="#fbfbfb")
contour(ax, e_left, fill="#f3f3f3", z=3.2)
contour(ax, e_right, fill="#f3f3f3", z=3.2)
contour(ax, e_c2, fill="#e4e4e4", z=3.2)
contour(ax, e_c3, fill="#8c8c8c", z=3.4)
contour(ax, e_c4, fill="#101010", z=3.6)

# L12 vs lnL
ax = axes[3, 2]
speckle(ax, f_points, f_fringe)
for poly in f_outer:
    blob(ax, poly, alpha=0.7, z=1.5, soft=True)
for poly in f_core:
    blob(ax, poly, color="#050505", z=2.5, soft=True)
for poly in f_white:
    contour(ax, poly, fill="#fbfbfb")
for poly in f_inner:
    contour(ax, poly, fill="#f3f3f3", z=3.2)
contour(ax, f_c2, fill="#e4e4e4", z=3.2)
contour(ax, f_c3, fill="#8c8c8c", z=3.4)
contour(ax, f_c4, fill="#050505", z=3.6)

fig.savefig("out.png", dpi=300)
